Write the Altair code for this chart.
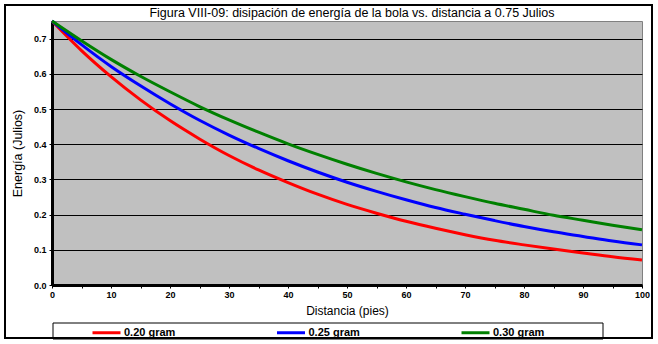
import altair as alt
import pandas as pd

# ---- data ----
distance = [0, 5, 10, 15, 20, 25, 30, 35, 40, 45, 50,
            55, 60, 65, 70, 75, 80, 85, 90, 95, 100]
energy_020 = [0.750, 0.666, 0.592, 0.526, 0.467, 0.415, 0.368, 0.327, 0.291, 0.258, 0.229,
              0.204, 0.181, 0.161, 0.143, 0.127, 0.114, 0.102, 0.091, 0.080, 0.071]
energy_025 = [0.750, 0.683, 0.621, 0.566, 0.515, 0.468, 0.426, 0.388, 0.353, 0.321, 0.292,
              0.266, 0.242, 0.220, 0.201, 0.183, 0.166, 0.151, 0.138, 0.125, 0.114]
energy_030 = [0.750, 0.694, 0.641, 0.593, 0.549, 0.507, 0.469, 0.434, 0.401, 0.371, 0.343,
              0.317, 0.293, 0.271, 0.251, 0.232, 0.215, 0.198, 0.184, 0.170, 0.157]

series = ["0.20 gram", "0.25 gram", "0.30 gram"]
colors = ["#FF0000", "#0000FF", "#008000"]
y_ticks = [0.0, 0.1, 0.2, 0.3, 0.4, 0.5, 0.6, 0.7]
x_ticks = [0, 5, 10, 15, 20, 25, 30, 35, 40, 45, 50,
           55, 60, 65, 70, 75, 80, 85, 90, 95, 100]

title_text = "Figura VIII-09: disipación de energía de la bola vs. distancia a 0.75 Julios"
x_title = "Distancia (pies)"
y_title = "Energía (Julios)"

rows = []
for name, vals in zip(series, [energy_020, energy_025, energy_030]):
    for d, v in zip(distance, vals):
        rows.append({"distancia": d, "energia": v, "serie": name})
df = pd.DataFrame(rows)
one = pd.DataFrame({"k": [0]})
title_df = pd.DataFrame({"t": [title_text]})

FONT = "Liberation Sans"

frame = alt.Chart(one).mark_rect(fillOpacity=0, stroke="black", strokeWidth=2).encode(
    x=alt.value(-47), x2=alt.value(600), y=alt.value(-16), y2=alt.value(317)
)
legend_box = alt.Chart(one).mark_rect(fillOpacity=0, stroke="black", strokeWidth=1).encode(
    x=alt.value(1), x2=alt.value(551), y=alt.value(302), y2=alt.value(318)
)
title_mark = alt.Chart(title_df).mark_text(
    font=FONT, fontSize=12.5, color="black", align="center", baseline="middle"
).encode(x=alt.value(300), y=alt.value(-8), text="t:N")

lines = alt.Chart(df).mark_line(strokeWidth=3, interpolate="monotone").encode(
    x=alt.X("distancia:Q",
            scale=alt.Scale(domain=[0, 100], nice=False, zero=False),
            axis=alt.Axis(values=x_ticks,
                          labelExpr="datum.value % 10 === 0 ? datum.label : ''",
                          labelFont=FONT, labelFontWeight="bold", labelFontSize=9,
                          labelColor="black", labelPadding=2, labelFlush=False,
                          tickSize=3, tickColor="black", tickWidth=1,
                          domainColor="black", domainWidth=3, grid=False,
                          title=x_title, titleFont=FONT, titleFontSize=12,
                          titleFontWeight="normal", titleColor="black", titlePadding=6)),
    y=alt.Y("energia:Q",
            scale=alt.Scale(domain=[0, 0.75], nice=False),
            axis=alt.Axis(values=y_ticks, format=".1f",
                          labelFont=FONT, labelFontWeight="bold", labelFontSize=9,
                          labelColor="black", labelPadding=3,
                          tickSize=3, tickColor="black", tickWidth=1,
                          domainColor="black", domainWidth=3,
                          grid=True, gridColor="black", gridWidth=1, gridOpacity=1,
                          title=y_title, titleFont=FONT, titleFontSize=12.5,
                          titleFontWeight="normal", titleColor="black", titlePadding=9)),
    color=alt.Color("serie:N",
                    scale=alt.Scale(domain=series, range=colors),
                    legend=alt.Legend(orient="none", legendX=39, legendY=296,
                                      direction="horizontal", columns=3,
                                      title=None, padding=0,
                                      symbolType="stroke", symbolSize=784,
                                      symbolStrokeWidth=3, labelOffset=2,
                                      labelFont=FONT, labelFontWeight="bold",
                                      labelFontSize=11, labelColor="black",
                                      columnPadding=94.5)),
)

chart = alt.layer(frame, legend_box, title_mark, lines).properties(
    width=590,
    height=264,
    autosize=alt.AutoSizeParams(type="none"),
    padding={"left": 52, "top": 21, "right": 16, "bottom": 59},
).configure(background="white").configure_view(
    stroke="#808080", strokeWidth=1, fill="#C0C0C0"
)

chart.save("out.html", embed_options={"renderer": "svg", "actions": False})
